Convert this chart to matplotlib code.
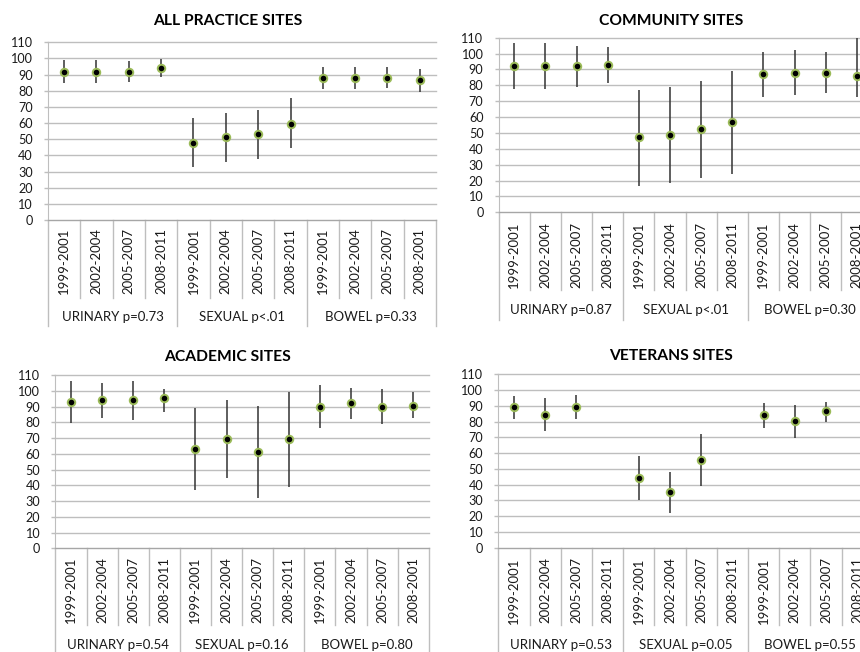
import numpy as np
import matplotlib
matplotlib.use('Agg')
from matplotlib import pyplot as plt
from matplotlib import transforms

plt.rcParams['font.family'] = ['Lato', 'DejaVu Sans']

periods = ['1999-2001', '2002-2004', '2005-2007', '2008-2011']
bowel_periods = ['1999-2001', '2002-2004', '2005-2007', '2008-2001']
nan = np.nan

# ALL PRACTICE SITES
all_labels = periods + periods + bowel_periods
all_groups = ['URINARY p=0.73', 'SEXUAL p<.01', 'BOWEL p=0.33']
all_mean = [91.6, 91.7, 91.8, 93.9, 47.9, 51.6, 53.3, 59.6, 88.0, 88.0, 88.0, 86.5]
all_low = [84.8, 85.0, 85.2, 88.7, 33.0, 35.7, 37.6, 44.4, 81.0, 81.0, 81.5, 79.5]
all_high = [99.0, 99.0, 98.4, 99.7, 63.0, 66.0, 68.0, 75.4, 95.0, 95.0, 94.5, 93.5]

# COMMUNITY SITES
com_labels = periods + periods + bowel_periods
com_groups = ['URINARY p=0.87', 'SEXUAL p<.01', 'BOWEL p=0.30']
com_mean = [92.1, 92.1, 92.1, 92.5, 47.5, 48.8, 52.6, 56.6, 87.0, 87.9, 88.0, 86.0]
com_low = [77.6, 77.6, 79.0, 81.6, 16.6, 18.7, 21.6, 24.4, 72.7, 73.8, 74.9, 72.7]
com_high = [106.4, 106.5, 104.9, 103.9, 77.0, 79.0, 82.8, 89.0, 101.0, 102.2, 101.0, 110.0]

# ACADEMIC SITES
aca_labels = periods + periods + bowel_periods
aca_groups = ['URINARY p=0.54', 'SEXUAL p=0.16', 'BOWEL p=0.80']
aca_mean = [92.8, 94.1, 94.0, 95.6, 62.8, 69.2, 60.9, 69.2, 89.9, 92.0, 90.0, 90.5]
aca_low = [79.7, 82.9, 81.4, 86.7, 37.0, 44.4, 32.1, 39.1, 76.1, 81.8, 78.9, 82.9]
aca_high = [106.0, 104.7, 106.0, 100.9, 88.8, 94.1, 90.3, 99.0, 103.6, 101.5, 101.0, 99.0]

# VETERANS SITES
vet_labels = periods + periods + periods
vet_groups = ['URINARY p=0.53', 'SEXUAL p=0.05', 'BOWEL p=0.55']
vet_mean = [89.1, 84.0, 89.0, nan, 44.2, 35.3, 55.9, nan, 84.0, 80.2, 86.5, nan]
vet_low = [81.9, 74.2, 81.7, nan, 30.3, 21.8, 39.3, nan, 76.1, 69.8, 80.0, nan]
vet_high = [96.3, 94.8, 96.9, nan, 58.2, 48.0, 71.9, nan, 91.6, 90.5, 92.2, nan]

W, H = 860, 652
GRID = '#BEBEBE'
TXT = '#1a1a1a'

fig = plt.figure(figsize=(8.6, 6.52), dpi=100)
renderer = fig.canvas.get_renderer()


def fit_size(s, target_px, weight='normal'):
    # font size (pt) giving the text the width seen in the reference
    t = fig.text(0, 0, s, fontsize=10, fontweight=weight)
    w = t.get_window_extent(renderer).width
    t.remove()
    return 10 * target_px / w


CAT_FS = fit_size('1999-2001', 66)
GROUP_FS = fit_size('URINARY p=0.73', 101)
TITLE_FS = fit_size('ALL PRACTICE SITES', 149, 'bold')
YT_FS = fit_size('110', 22)


def draw_panel(title, labels, groups, mean, low, high, box, extra):
    left, right, y0, y110 = box
    label_top, sep_bottom, group_y, group_bottom, tx, ty = extra
    ax = fig.add_axes([left / W, 1 - y0 / H, (right - left) / W, (y0 - y110) / H])
    x = np.arange(len(labels))
    mean = np.array(mean)
    yerr = [mean - np.array(low), np.array(high) - mean]
    ax.errorbar(x, mean, yerr=yerr, fmt='o', color='#333333', elinewidth=1.1, capsize=0,
                markersize=5.4, markerfacecolor='black', markeredgecolor='#9BBB59',
                markeredgewidth=1.4, zorder=3)
    ax.set_xlim(-0.5, len(labels) - 0.5)
    ax.set_ylim(0, 110)
    ax.set_yticks(range(0, 111, 10))
    ax.tick_params(axis='y', length=3, width=1, color=GRID, pad=8, labelsize=YT_FS,
                   labelcolor=TXT)
    ax.set_xticks([])
    ax.yaxis.grid(True, color=GRID, lw=1.0)
    for gl in ax.get_ygridlines():
        gl.set_clip_on(False)
    ax.set_axisbelow(True)
    for s in ['top', 'right']:
        ax.spines[s].set_visible(False)
    ax.spines['left'].set_color(GRID)
    ax.spines['bottom'].set_color('#A6A6A6')

    # multi-level category axis below the plot
    trans = transforms.blended_transform_factory(ax.transData, fig.transFigure)
    fy = lambda py: 1 - py / H
    for i, lab in enumerate(labels):
        ax.text(i, fy(label_top), lab, transform=trans, rotation=90, ha='center', va='top',
                fontsize=CAT_FS, color=TXT, clip_on=False)
    for k in range(len(labels) + 1):
        xb = k - 0.5
        bottom = group_bottom if k % 4 == 0 else sep_bottom
        ax.plot([xb, xb], [fy(y0), fy(bottom)], transform=trans, color=GRID, lw=1.0,
                clip_on=False)
    for g, name in enumerate(groups):
        ax.text(g * 4 + 1.5, fy(group_y), name, transform=trans, ha='center', va='center',
                fontsize=GROUP_FS, color=TXT, clip_on=False)
    fig.text(tx / W, fy(ty), title, ha='center', va='center', fontsize=TITLE_FS,
             fontweight='bold', color='black')
    return ax


draw_panel('ALL PRACTICE SITES', all_labels, all_groups, all_mean, all_low, all_high,
           (48, 436, 220, 42.3), (228, 298, 317, 326, 227.5, 21))
draw_panel('COMMUNITY SITES', com_labels, com_groups, com_mean, com_low, com_high,
           (498.7, 872.4, 212.3, 37.7), (221.7, 290, 310, 320, 671, 21))
draw_panel('ACADEMIC SITES', aca_labels, aca_groups, aca_mean, aca_low, aca_high,
           (55.4, 428.8, 548.3, 375), (557, 625, 645, 652, 227, 356.7))
draw_panel('VETERANS SITES', vet_labels, vet_groups, vet_mean, vet_low, vet_high,
           (498.4, 872.8, 547.7, 374.3), (557.3, 625, 645, 652, 670.5, 355.7))

fig.savefig('out.png', dpi=100)
